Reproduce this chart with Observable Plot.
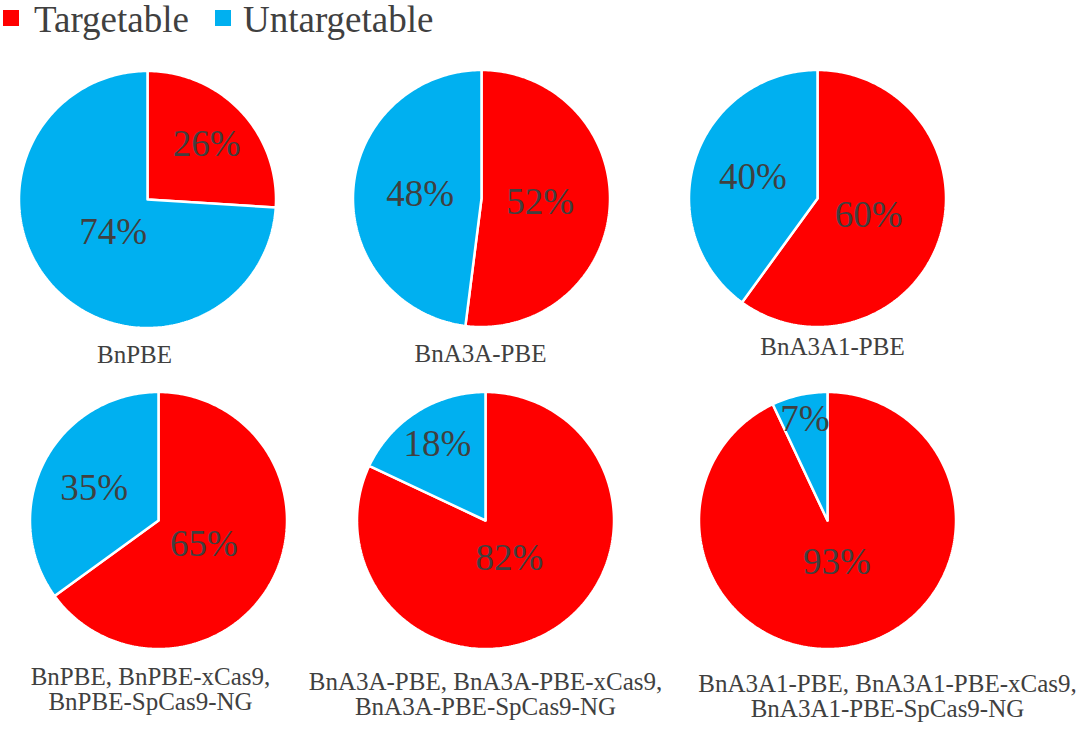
<!DOCTYPE html>
<html>
<head>
<meta charset="utf-8">
<script src="https://cdn.jsdelivr.net/npm/d3@7"></script>
<script src="https://cdn.jsdelivr.net/npm/@observablehq/plot@0.6"></script>
<style>
  body { margin: 0; background: #fff; font-family: "Liberation Serif", "Times New Roman", serif; }
  #legend { position: relative; width: 1084px; height: 40px; }
  .sw { position: absolute; top: 10px; width: 16px; height: 16px; }
  .lt { position: absolute; top: 0px; font-size: 37px; line-height: 1.1; color: #404040; white-space: nowrap; }
  #chart svg text { font-family: "Liberation Serif", "Times New Roman", serif; }
</style>
</head>
<body>
<div id="legend"></div>
<div id="chart"></div>
<script>
// ---- data ----
const categories = ["Targetable", "Untargetable"];
const pieNames = [
  "BnPBE",
  "BnA3A-PBE",
  "BnA3A1-PBE",
  "BnPBE, BnPBE-xCas9,\nBnPBE-SpCas9-NG",
  "BnA3A-PBE, BnA3A-PBE-xCas9,\nBnA3A-PBE-SpCas9-NG",
  "BnA3A1-PBE, BnA3A1-PBE-xCas9,\nBnA3A1-PBE-SpCas9-NG"
];
const targetable = [26, 52, 60, 65, 82, 93];
const untargetable = [74, 48, 40, 35, 18, 7];

// ---- styles / layout ----
const colors = ["#FF0000", "#00B0F0"];
const textColor = "#404040";
const font = "Liberation Serif";
const centerX = [147, 481, 817, 158, 485, 827];
const centerY = [199, 198, 198, 520, 520, 520];
const radius = 128.5;
const nameX = [134, 480, 832, 150, 485, 887];
const nameBaseline = [363, 362, 355, 685, 690, 692];
const nameSize = 25;

// legend (HTML above the SVG)
const legend = document.getElementById("legend");
const legendSw = [3, 215];
const legendTx = [34, 243];
categories.forEach((c, k) => {
  const s = document.createElement("div");
  s.className = "sw"; s.style.left = legendSw[k] + "px"; s.style.background = colors[k];
  legend.appendChild(s);
  const t = document.createElement("div");
  t.className = "lt"; t.style.left = legendTx[k] + "px"; t.textContent = c;
  legend.appendChild(t);
});

// build slice polygons and label positions from the values
const sliceRows = [];
const labelRows = [];
pieNames.forEach((name, i) => {
  const vals = [targetable[i], untargetable[i]];
  const total = d3.sum(vals);
  let cum = 0;
  vals.forEach((v, k) => {
    const a0 = cum / total * 2 * Math.PI;
    const a1 = (cum + v) / total * 2 * Math.PI;
    cum += v;
    const id = i + "-" + k;
    const cat = categories[k];
    const n = Math.max(2, Math.ceil((a1 - a0) / (Math.PI / 180)));
    sliceRows.push({id, cat, px: centerX[i], py: centerY[i]});
    for (let j = 0; j <= n; j++) {
      const a = a0 + (a1 - a0) * j / n;
      sliceRows.push({id, cat, px: centerX[i] + radius * Math.sin(a), py: centerY[i] - radius * Math.cos(a)});
    }
    sliceRows.push({id, cat, px: centerX[i], py: centerY[i]});
    const p = v / total;
    const f = 0.33 + 0.55 * (1 - p) * (1 - p);
    const mid = (a0 + a1) / 2;
    labelRows.push({
      text: v + "%",
      px: centerX[i] + f * radius * Math.sin(mid),
      py: centerY[i] - f * radius * Math.cos(mid)
    });
  });
});
const nameRows = pieNames.map((name, i) => ({name, px: nameX[i], py: nameBaseline[i] - 0.71 * nameSize}));

const chart = Plot.plot({
  width: 1084,
  height: 692,
  margin: 0,
  style: {background: "#fff", overflow: "visible", fontFamily: "Liberation Serif, serif"},
  x: {domain: [0, 1084], range: [0, 1084], axis: null},
  y: {domain: [40, 732], range: [0, 692], axis: null},
  color: {domain: categories, range: colors},
  marks: [
    Plot.line(sliceRows, {x: "px", y: "py", z: "id", fill: "cat", stroke: "white", strokeWidth: 2.5, strokeLinejoin: "miter", curve: "linear"}),
    Plot.text(labelRows, {x: "px", y: "py", text: "text", fontSize: 37, fontFamily: font, fill: textColor}),
    Plot.text(nameRows, {x: "px", y: "py", text: "name", fontSize: nameSize, fontFamily: font, fill: textColor, lineAnchor: "top", lineHeight: 0.98})
  ]
});
document.getElementById("chart").appendChild(chart);
</script>
</body>
</html>
